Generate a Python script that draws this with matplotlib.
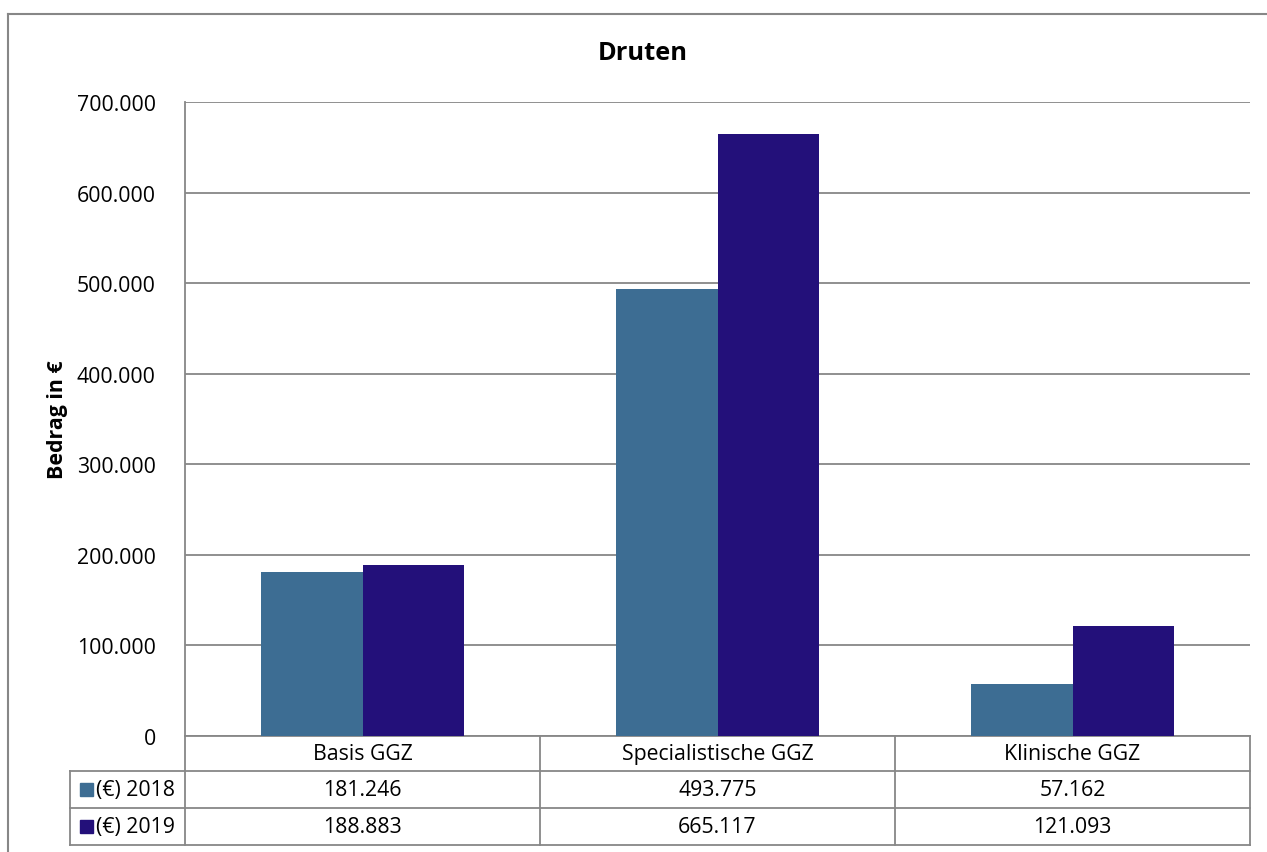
import numpy as np
import matplotlib.pyplot as plt
from matplotlib.lines import Line2D
from matplotlib.patches import Rectangle
import matplotlib.transforms as mtransforms

plt.rcParams['font.family'] = ['Open Sans', 'DejaVu Sans']

# data
categories = ['Basis GGZ', 'Specialistische GGZ', 'Klinische GGZ']
series_names = ['(€) 2018', '(€) 2019']
values_2018 = [181246, 493775, 57162]
values_2019 = [188883, 665117, 121093]
colors = ['#3D6D93', '#23107A']
yticks = np.arange(0, 700001, 100000)

def fmt(v):
    return f'{v:,}'.replace(',', '.')

W, H = 1267, 853
fs = 15.3
fig = plt.figure(figsize=(W / 100, H / 100), dpi=100)
ax = fig.add_axes([185 / W, 116 / H, (1250 - 185) / W, (750 - 116) / H])

grey = '#878787'
x = np.arange(len(categories))
bw = 0.286
ax.bar(x - bw / 2, values_2018, bw, color=colors[0], zorder=3)
ax.bar(x + bw / 2, values_2019, bw, color=colors[1], zorder=3)

ax.set_xlim(-0.5, 2.5)
ax.set_ylim(0, 700000)
ax.set_yticks(yticks)
ax.set_yticklabels([fmt(int(t)) for t in yticks], fontsize=fs)
ax.tick_params(axis='y', length=0, pad=21)
ax.set_xticks([])
ax.yaxis.grid(True, color=grey, lw=1.3, zorder=0)
for s in ['top', 'right', 'bottom']:
    ax.spines[s].set_visible(False)
ax.spines['left'].set_color(grey)
ax.spines['left'].set_linewidth(1.3)

fig.text(58 / W, 1 - 420 / H, 'Bedrag in €', fontsize=15.4, fontweight='bold',
         rotation=90, ha='center', va='center')
fig.text(643 / W, 1 - 53 / H, 'Druten', fontsize=18.3, fontweight='bold',
         ha='center', va='center')

# data table under the axis
trans = mtransforms.blended_transform_factory(ax.transData, ax.transAxes)
ph = 634
rows = [0, -35 / ph, -72 / ph, -109 / ph]
leg_left = -0.5 - 115 / 355
lk = dict(color=grey, lw=1.3, transform=trans, clip_on=False)
# horizontal lines
ax.add_line(Line2D([-0.5, 2.5], [rows[0], rows[0]], **lk))
for r in rows[1:]:
    ax.add_line(Line2D([leg_left, 2.5], [r, r], **lk))
# vertical lines
for xv in [-0.5, 0.5, 1.5, 2.5]:
    ax.add_line(Line2D([xv, xv], [rows[0], rows[3]], **lk))
ax.add_line(Line2D([leg_left, leg_left], [rows[1], rows[3]], **lk))

for i, c in enumerate(categories):
    ax.text(i, (rows[0] + rows[1]) / 2, c, transform=trans, ha='center',
            va='center', fontsize=fs)
for j, vals in enumerate([values_2018, values_2019]):
    yc = (rows[j + 1] + rows[j + 2]) / 2
    for i, v in enumerate(vals):
        ax.text(i, yc, fmt(v), transform=trans, ha='center', va='center',
                fontsize=fs)
    sq_h = 13 / ph
    ax.add_patch(Rectangle((leg_left + 10 / 355, yc - sq_h / 2), 13 / 355, sq_h,
                           color=colors[j], transform=trans, clip_on=False))
    ax.text(leg_left + 26 / 355, yc, series_names[j], transform=trans,
            ha='left', va='center', fontsize=fs)

# outer chart border
fig.add_artist(Line2D([8 / W, 8 / W], [0, 1 - 15 / H], color=grey, lw=1.5))
fig.add_artist(Line2D([8 / W, 1], [1 - 15 / H, 1 - 15 / H], color=grey, lw=1.5))

fig.savefig('out.png', dpi=100)
